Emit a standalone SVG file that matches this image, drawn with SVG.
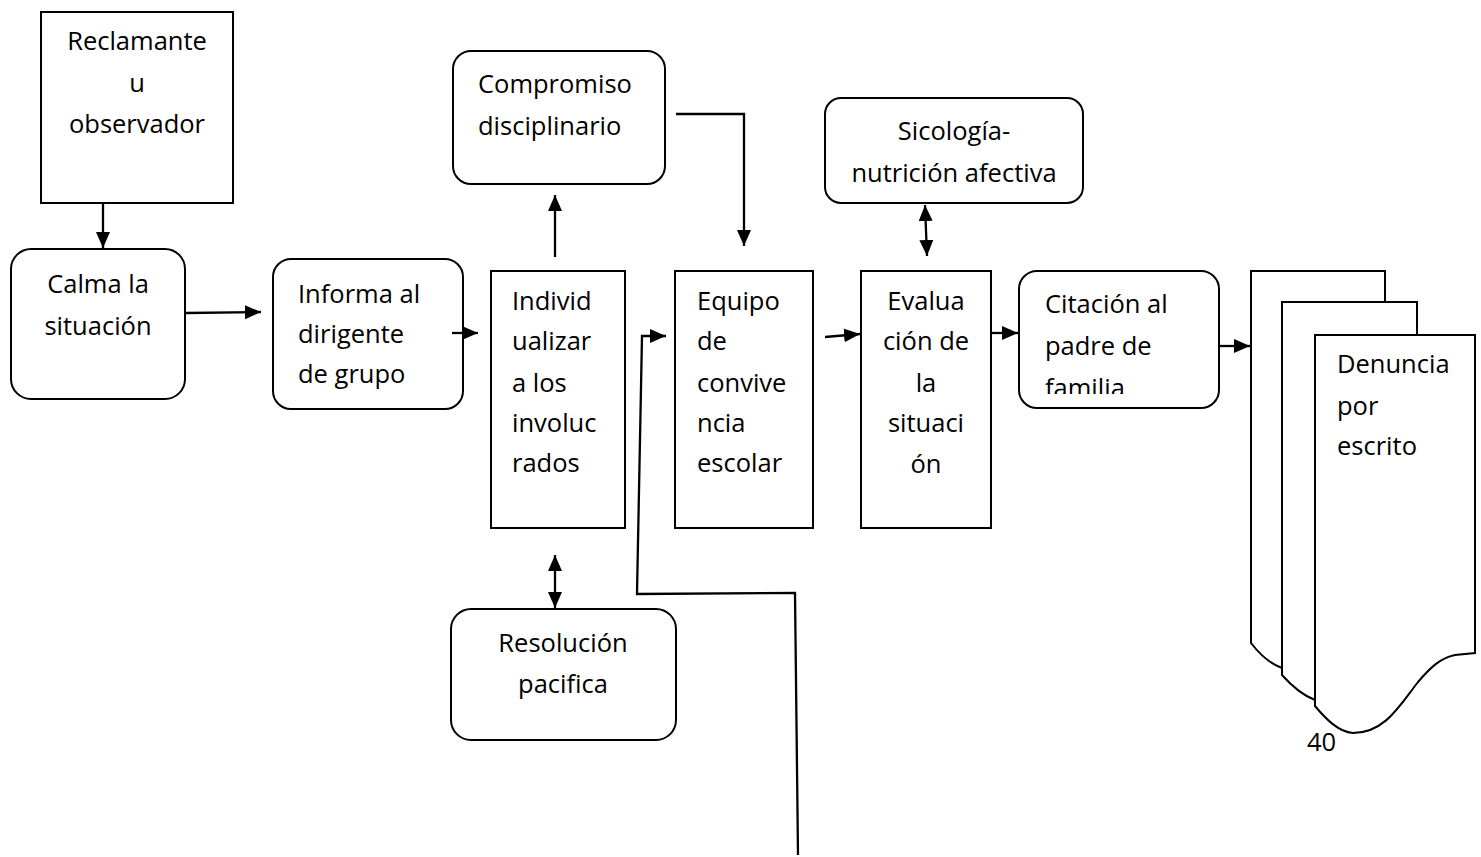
<svg xmlns="http://www.w3.org/2000/svg" width="1481" height="857" viewBox="0 0 1481 857">
<style>
.box{fill:#fff;stroke:#000;stroke-width:2}
.t{font-family:"Open Sans","Liberation Sans",sans-serif;font-size:25.5px;fill:#000}
.c{text-anchor:middle}
.ln{fill:none;stroke:#000;stroke-width:2.3}
</style>
<defs>
<marker id="ah" markerUnits="userSpaceOnUse" markerWidth="16" markerHeight="16" refX="16" refY="8" orient="auto-start-reverse">
<path d="M0,1 L16,8 L0,15 Z" fill="#000"/>
</marker>
<clipPath id="citclip"><rect x="1019" y="271" width="200" height="123"/></clipPath>
</defs>
<rect width="1481" height="857" fill="#fff"/>

<g id="reclamante">
<rect class="box" x="41" y="12" width="192" height="191"/>
<text class="t c" x="137" y="50">Reclamante</text>
<text class="t c" x="137" y="92">u</text>
<text class="t c" x="137" y="133">observador</text>
</g>

<g id="calma">
<rect class="box" x="11" y="249" width="174" height="150" rx="20"/>
<text class="t c" x="98" y="293">Calma la</text>
<text class="t c" x="98" y="335">situación</text>
</g>

<g id="informa">
<rect class="box" x="273" y="259" width="190" height="150" rx="18"/>
<text class="t" x="298" y="303">Informa al</text>
<text class="t" x="298" y="343">dirigente</text>
<text class="t" x="298" y="383">de grupo</text>
</g>

<g id="compromiso">
<rect class="box" x="453" y="51" width="212" height="133" rx="18"/>
<text class="t" x="478" y="93">Compromiso</text>
<text class="t" x="478" y="135">disciplinario</text>
</g>

<g id="individualizar">
<rect class="box" x="491" y="271" width="134" height="257"/>
<text class="t" x="512" y="310">Individ</text>
<text class="t" x="512" y="350">ualizar</text>
<text class="t" x="512" y="392">a los</text>
<text class="t" x="512" y="432">involuc</text>
<text class="t" x="512" y="472">rados</text>
</g>

<g id="resolucion">
<rect class="box" x="451" y="609" width="225" height="131" rx="20"/>
<text class="t c" x="563" y="652">Resolución</text>
<text class="t c" x="563" y="693">pacifica</text>
</g>

<g id="equipo">
<rect class="box" x="675" y="271" width="138" height="257"/>
<text class="t" x="697" y="310">Equipo</text>
<text class="t" x="697" y="350">de</text>
<text class="t" x="697" y="392">convive</text>
<text class="t" x="697" y="432">ncia</text>
<text class="t" x="697" y="472">escolar</text>
</g>

<g id="sicologia">
<rect class="box" x="825" y="98" width="258" height="105" rx="16"/>
<text class="t c" x="954" y="140">Sicología-</text>
<text class="t c" x="954" y="182">nutrición afectiva</text>
</g>

<g id="evaluacion">
<rect class="box" x="861" y="271" width="130" height="257"/>
<text class="t c" x="926" y="310">Evalua</text>
<text class="t c" x="926" y="350">ción de</text>
<text class="t c" x="926" y="392">la</text>
<text class="t c" x="926" y="432">situaci</text>
<text class="t c" x="926" y="473">ón</text>
</g>

<g id="citacion">
<rect class="box" x="1019" y="271" width="200" height="137" rx="18"/>
<g clip-path="url(#citclip)">
<text class="t" x="1045" y="313">Citación al</text>
<text class="t" x="1045" y="355">padre de</text>
<text class="t" x="1045" y="397">familia</text>
</g>
</g>

<g id="denuncia">
<path class="box" d="M1251,271 H1385 V618 C1350,616 1330,650 1305,666 C1297,670 1289,670 1282,668 C1270,664 1258,652 1251,643 Z"/>
<path class="box" d="M1282,302 H1417 V648 C1385,646 1365,680 1340,696 C1331,701 1323,702 1315,700 C1302,695 1290,684 1282,675 Z"/>
<path class="box" d="M1315,335 H1475 V653 L1455,655 C1440,658 1430,668 1418,682 C1400,705 1385,733 1353,733 C1338,732 1325,718 1315,706 Z"/>
<text class="t" x="1337" y="373">Denuncia</text>
<text class="t" x="1337" y="415">por</text>
<text class="t" x="1337" y="455">escrito</text>
</g>

<text class="t" x="1307" y="751">40</text>

<g id="connectors">
<line class="ln" x1="103" y1="204" x2="103" y2="248" marker-end="url(#ah)"/>
<line class="ln" x1="186" y1="313" x2="261" y2="312" marker-end="url(#ah)"/>
<line class="ln" x1="452" y1="333" x2="478" y2="333" marker-end="url(#ah)"/>
<line class="ln" x1="555" y1="257" x2="555" y2="195" marker-end="url(#ah)"/>
<polyline class="ln" points="676,114 744,114 744,246" marker-end="url(#ah)"/>
<line class="ln" x1="555" y1="555" x2="555" y2="608" marker-start="url(#ah)" marker-end="url(#ah)"/>
<polyline class="ln" points="798,855 795,593 637,594 642,336 666,336" marker-end="url(#ah)"/>
<line class="ln" x1="825" y1="337" x2="860" y2="334" marker-end="url(#ah)"/>
<line class="ln" x1="925" y1="205" x2="927" y2="256" marker-start="url(#ah)" marker-end="url(#ah)"/>
<line class="ln" x1="992" y1="333" x2="1018" y2="333" marker-end="url(#ah)"/>
<line class="ln" x1="1220" y1="346" x2="1250" y2="346" marker-end="url(#ah)"/>
</g>
</svg>
